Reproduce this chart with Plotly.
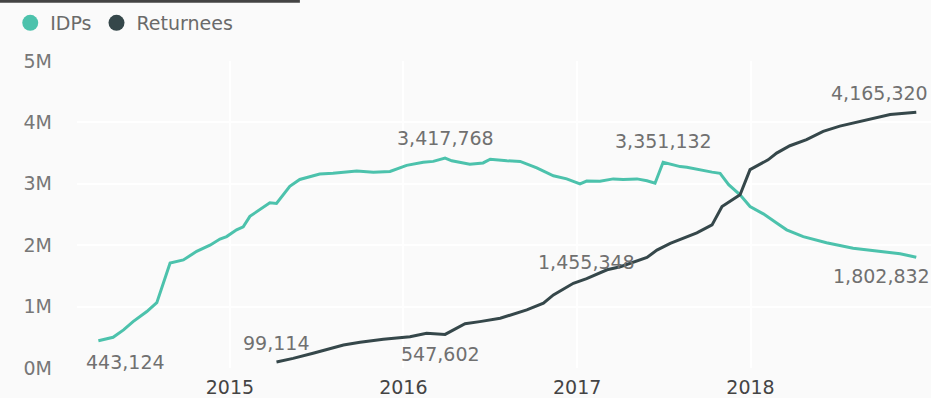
import plotly.graph_objects as go

idp_dates = ["2014-03-30","2014-04-30","2014-05-22","2014-06-11","2014-07-10","2014-07-31",
             "2014-08-28","2014-09-25","2014-10-23","2014-11-20","2014-12-11","2014-12-25",
             "2015-01-15","2015-01-29","2015-02-12","2015-03-05","2015-03-26","2015-04-09",
             "2015-05-07","2015-05-28","2015-06-18","2015-07-09","2015-08-06","2015-09-25",
             "2015-10-30","2015-12-04","2016-01-08","2016-02-12","2016-03-04","2016-03-29",
             "2016-04-12","2016-05-20","2016-06-17","2016-07-02","2016-08-06","2016-09-03",
             "2016-10-08","2016-11-12","2016-12-10","2017-01-07","2017-01-21","2017-02-18",
             "2017-03-18","2017-04-08","2017-05-07","2017-05-28","2017-06-14","2017-07-01",
             "2017-08-06","2017-08-20","2017-10-12","2017-10-29","2017-11-16","2017-12-10",
             "2017-12-31","2018-01-28","2018-02-25","2018-03-18","2018-04-22","2018-06-10",
             "2018-08-05","2018-10-01","2018-11-12","2018-12-16"]
idp_values = [443124, 500000, 620000, 755000, 920000, 1065000,
              1710000, 1760000, 1900000, 2000000, 2100000, 2140000,
              2250000, 2300000, 2470000, 2580000, 2690000, 2680000,
              2960000, 3070000, 3110000, 3160000, 3170000, 3210000,
              3190000, 3200000, 3300000, 3350000, 3365000, 3417768,
              3375000, 3320000, 3340000, 3400000, 3375000, 3365000,
              3260000, 3130000, 3080000, 3000000, 3045000, 3040000,
              3080000, 3070000, 3080000, 3050000, 3010000, 3351132,
              3280000, 3270000, 3190000, 3170000, 2985000, 2820000,
              2630000, 2510000, 2360000, 2250000, 2140000, 2040000,
              1950000, 1900000, 1860000, 1802832]

ret_dates = ["2015-04-09","2015-05-14","2015-06-25","2015-08-28","2015-10-02","2015-11-20",
             "2016-01-15","2016-02-19","2016-03-29","2016-05-10","2016-06-10","2016-07-23",
             "2016-09-17","2016-10-22","2016-11-12","2016-12-24","2017-01-21","2017-03-05",
             "2017-04-02","2017-04-30","2017-05-28","2017-06-18","2017-07-16","2017-09-10",
             "2017-10-12","2017-11-02","2017-12-10","2017-12-31","2018-02-07","2018-02-25",
             "2018-03-25","2018-04-29","2018-06-03","2018-07-08","2018-09-03","2018-10-22",
             "2018-12-16"]
ret_values = [99114, 157000, 240000, 375000, 420000, 470000,
              510000, 565000, 547602, 720000, 755000, 810000,
              946000, 1055000, 1190000, 1380000, 1455348, 1600000,
              1650000, 1720000, 1800000, 1920000, 2030000, 2200000,
              2330000, 2630000, 2820000, 3230000, 3390000, 3500000,
              3620000, 3720000, 3855000, 3940000, 4045000, 4130000,
              4165320]

# labelled points: (index, xshift, yshift)
idp_labels = [(0, 27, -21), (29, 0, 20), (47, 0, 21), (63, -35, -19)]
ret_labels = [(0, 0, 19), (8, -5, -20), (16, 0, 17), (36, -37, 19)]

year_ticks = ["2015-01-01", "2016-01-01", "2017-01-01", "2018-01-01"]
year_labels = ["2015", "2016", "2017", "2018"]
y_ticks = [0, 1e6, 2e6, 3e6, 4e6, 5e6]
y_labels = ["0M", "1M", "2M", "3M", "4M", "5M"]

teal = "#4CC2AC"
dark = "#35474A"
font = "DejaVu Sans"

fig = go.Figure()
fig.add_trace(go.Scatter(x=idp_dates, y=idp_values, mode="lines", line=dict(color=teal, width=3),
                         showlegend=False))
fig.add_trace(go.Scatter(x=ret_dates, y=ret_values, mode="lines", line=dict(color=dark, width=3),
                         showlegend=False))
fig.add_trace(go.Scatter(x=[None], y=[None], mode="markers", name="IDPs",
                         marker=dict(color=teal, size=20, symbol="circle")))
fig.add_trace(go.Scatter(x=[None], y=[None], mode="markers", name="Returnees",
                         marker=dict(color=dark, size=20, symbol="circle")))

lab_font = dict(family=font, size=19, color="#707070")
anns = []
for i, xs, ys in idp_labels:
    anns.append(dict(x=idp_dates[i], y=idp_values[i], text=f"{idp_values[i]:,}", showarrow=False,
                     xshift=xs, yshift=ys, font=lab_font))
for i, xs, ys in ret_labels:
    anns.append(dict(x=ret_dates[i], y=ret_values[i], text=f"{ret_values[i]:,}", showarrow=False,
                     xshift=xs, yshift=ys, font=lab_font))

fig.update_layout(
    width=931, height=398,
    margin=dict(l=77, r=0, t=61, b=30),
    paper_bgcolor="#FAFAFA", plot_bgcolor="#FAFAFA",
    annotations=anns,
    legend=dict(orientation="h", x=0.011, y=0.99, xref="container", yref="container",
                xanchor="left", yanchor="top", font=dict(family=font, size=19, color="#6A6A6A"),
                itemwidth=30, tracegroupgap=0, bgcolor="rgba(0,0,0,0)"),
    xaxis=dict(type="date", range=["2014-02-13", "2019-01-16"], tickvals=year_ticks,
               ticktext=year_labels, showgrid=True, gridcolor="#FFFFFF", gridwidth=2,
               zeroline=False, showline=False, ticks="", ticklabelstandoff=6,
               tickfont=dict(family=font, size=19, color="#444444")),
    yaxis=dict(range=[0, 5.0e6], tickvals=y_ticks, ticktext=y_labels, showgrid=True,
               gridcolor="#FFFFFF", gridwidth=2, zeroline=False, showline=False, ticks="",
               ticklabelstandoff=24, tickfont=dict(family=font, size=19, color="#777777")),
    shapes=[dict(type="rect", xref="paper", yref="paper", x0=-0.0902, x1=0.261, y0=1.19,
                 y1=1.2, fillcolor="#444444", line=dict(width=0))],
)

fig.write_html("out.html")
